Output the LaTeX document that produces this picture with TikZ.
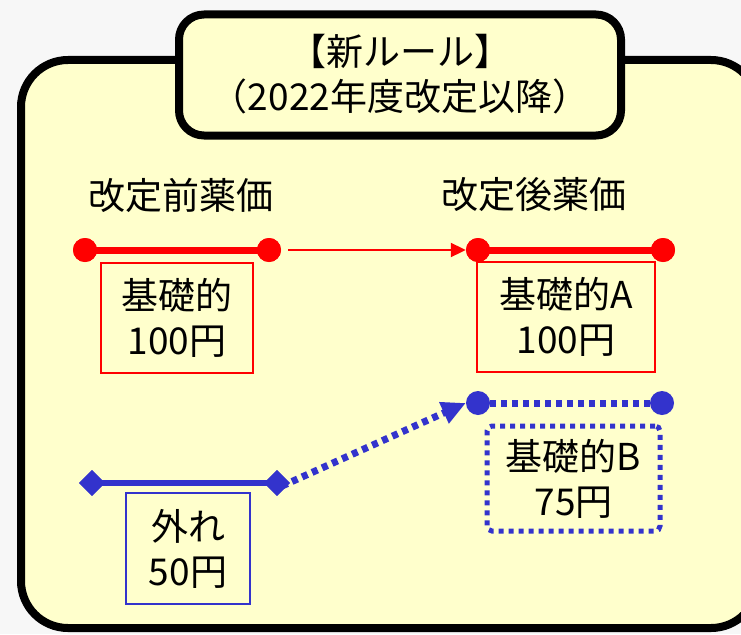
\documentclass[tikz,border=0pt]{standalone}
\usepackage{fontspec}
\setmainfont{Noto Sans CJK JP}
\usetikzlibrary{shapes.geometric,arrows.meta}
\definecolor{bgray}{HTML}{F7F7F7}
\definecolor{pale}{HTML}{FFFFCC}
\definecolor{myred}{HTML}{FF0000}
\definecolor{myblue}{HTML}{3333CC}
\tikzset{
  panel/.style={draw=black,line width=8pt,fill=pale},
  txt/.style={font=\fontsize{37}{45}\selectfont,align=center,inner sep=0pt},
  reddot/.style={circle,fill=myred,minimum size=24pt,inner sep=0pt},
  bluedot/.style={circle,fill=myblue,minimum size=24pt,inner sep=0pt},
  bluediam/.style={diamond,fill=myblue,minimum size=26pt,inner sep=0pt},
  redbar/.style={draw=myred,line width=7pt},
  redbox/.style={draw=myred,line width=1.6pt,txt},
  bluebox/.style={draw=myblue,line width=1.6pt,txt},
  bluedots/.style={draw=myblue,line width=7pt,dash pattern=on 6pt off 5pt},
  dotbox/.style={draw=myblue,line width=5pt,dash pattern=on 5pt off 5pt,rounded corners=5pt,txt}
}
\begin{document}
\begin{tikzpicture}[x=1pt,y=-1pt]
\useasboundingbox (0,0) rectangle (741,634);
\fill[bgray] (0,0) rectangle (741,634);
\begin{scope}
\clip (0,0) rectangle (741,634);
\draw[panel,rounded corners=47pt] (21,60) rectangle (758,628);
\end{scope}
\draw[panel,rounded corners=25pt] (179,14.5) rectangle (621,135.5);
\node[txt] (title) at (400,74) {【新ルール】\\（2022年度改定以降）};

\node[txt] (before) at (181,195) {改定前薬価};
\node[txt] (after) at (534,195) {改定後薬価};

% red before
\node[reddot] (r1) at (85,250) {};
\node[reddot] (r2) at (269,250) {};
\draw[redbar] (r1.center) -- (r2.center);
\node[reddot] at (r1) {};
\node[reddot] at (r2) {};
\node[redbox,minimum width=152pt,minimum height=110pt] (bx1) at (177,318) {基礎的\\100円};

% red after
\node[reddot] (r3) at (478,250) {};
\node[reddot] (r4) at (663,250) {};
\draw[redbar] (r3.center) -- (r4.center);
\node[reddot] at (r3) {};
\node[reddot] at (r4) {};
\node[redbox,minimum width=178pt,minimum height=110pt] (bx2) at (566,317) {基礎的A\\100円};
\draw[myred,line width=2pt,-{Triangle[length=15pt,width=14pt]}] ([xshift=7pt]r2.east) -- (r3.west);

% blue after
\node[bluedot] (b1) at (478,403) {};
\node[bluedot] (b2) at (662,403) {};
\draw[bluedots] (b1.east) -- (b2.west);
\node[dotbox,minimum width=173pt,minimum height=105pt] (bx3) at (573.5,478.5) {基礎的B\\75円};

% blue before
\node[bluediam] (d1) at (92,483) {};
\node[bluediam] (d2) at (277,483) {};
\draw[draw=myblue,line width=6pt] (d1.center) -- (d2.center);
\node[bluediam] at (d1) {};
\node[bluediam] at (d2) {};
\node[bluebox,minimum width=124pt,minimum height=111pt] (bx4) at (188,548.5) {外れ\\50円};

\draw[bluedots,-{Triangle[length=24pt,width=22pt]}] ([shift={(5pt,-3pt)}]d2.center) -- (b1.west);
\end{tikzpicture}
\end{document}
